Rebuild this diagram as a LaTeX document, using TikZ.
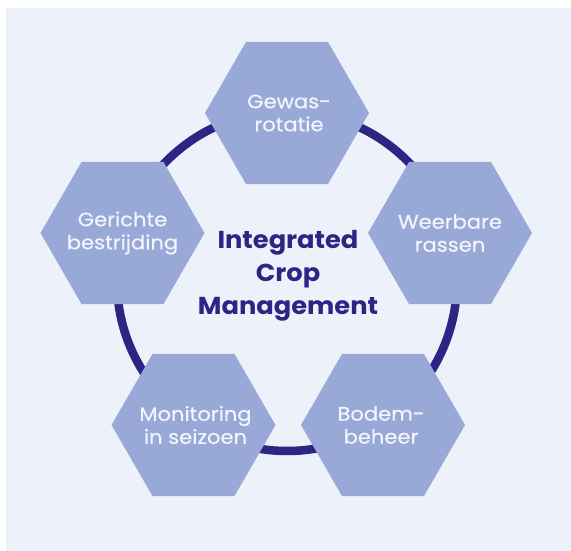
\documentclass[tikz,border=0pt]{standalone}
\usepackage{fontspec}
\setmainfont{Poppins}
\newfontfamily\lblfont[FakeStretch=1.08,FakeBold=0.4]{Poppins}
\newfontfamily\ttlfont[FakeStretch=1.05]{Poppins}
\usetikzlibrary{shapes.geometric}
\definecolor{bgc}{HTML}{EDF1FA}
\definecolor{hexc}{HTML}{99A9D7}
\definecolor{navy}{HTML}{2D2583}
\definecolor{lbl}{HTML}{F2F5FC}
\tikzset{
  hexbox/.style={regular polygon, regular polygon sides=6, minimum size=164pt,
    inner sep=0pt, fill=hexc},
  hexlabel/.style={inner sep=0pt, text=lbl, align=center,
    font=\lblfont\fontsize{19.5pt}{23pt}\selectfont},
  ring/.style={draw=navy, line width=8.5pt},
  title/.style={text=navy, align=center, font=\ttlfont\fontsize{24.5pt}{33pt}\selectfont\bfseries}
}
\begin{document}
\begin{tikzpicture}[x=1pt,y=-1pt]
\useasboundingbox (0,0) rectangle (571,551);
\fill[bgc] (6,8) rectangle (571,551);
\coordinate (ringc) at (287,281);
\draw[ring] (ringc) circle (170pt);
\node[hexbox] (top) at (287,113) {};
\node[hexbox] (left) at (122.5,233) {};
\node[hexbox] (right) at (450,233) {};
\node[hexbox] (bl) at (193.5,425) {};
\node[hexbox] (br) at (383,425) {};
\node[hexlabel] (toplbl) at ([xshift=2pt]top.center) {Gewas-\\rotatie};
\node[hexlabel] (leftlbl) at (left.center) {Gerichte\\bestrijding};
\node[hexlabel] (rightlbl) at (right.center) {Weerbare\\rassen};
\node[hexlabel] (bllbl) at ([xshift=2pt]bl.center) {Monitoring\\in seizoen};
\node[hexlabel] (brlbl) at ([xshift=-2pt]br.center) {Bodem-\\beheer};
\node[title] (center) at (288,276) {Integrated\\Crop\\Management};
\end{tikzpicture}
\end{document}
